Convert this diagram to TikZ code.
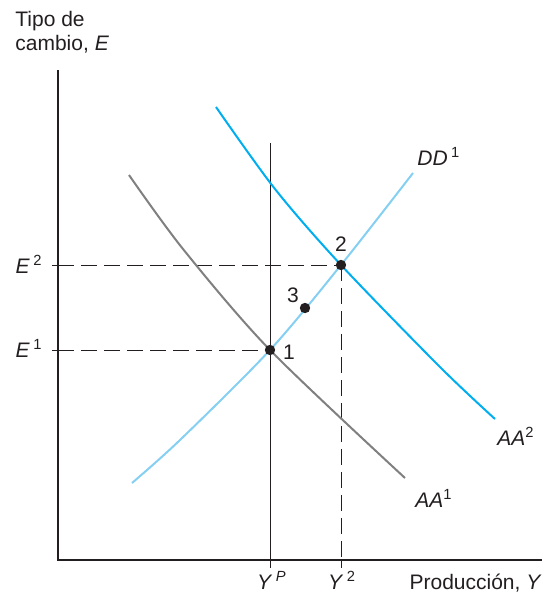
\documentclass[tikz,border=0pt]{standalone}
\usepackage{fontspec}
\setmainfont{Liberation Sans}
\usepackage{tikz}
\definecolor{AAGray}{HTML}{808080}
\definecolor{DDBlue}{HTML}{85D0F2}
\definecolor{AABlue}{HTML}{00AEEF}
\definecolor{AxisBlack}{HTML}{231F20}

\begin{document}
\begin{tikzpicture}[x=0.5pt,y=-0.5pt,font=\fontsize{10.5}{12}\selectfont,
  lbl/.style={inner sep=0pt,text=AxisBlack},
  guide/.style={AxisBlack,line width=0.5pt,dash pattern=on 8pt off 3.5pt},
  curve/.style={line width=1pt,smooth}]
\path[use as bounding box] (0,0) rectangle (554,601);
% equilibria
\coordinate (p1) at (270,350);
\coordinate (p2) at (341,265);
\coordinate (p3) at (305,308);
\coordinate (o) at (58,560);
% axes
\draw[AxisBlack,line width=1pt] (58,70) -- (o) -- (542,560);
\draw[AxisBlack,line width=0.5pt] (270,143) -- (270,568);
\draw[guide] (58,350) -- (p1);
\draw[guide] (58,265) -- (p2);
\draw[guide] (p2) -- (341,560);
\draw[AxisBlack,line width=0.5pt] (52,350) -- (58,350);
\draw[AxisBlack,line width=0.5pt] (52,265) -- (58,265);
\draw[AxisBlack,line width=0.5pt] (341,560) -- (341,568);
% curves
\draw[AAGray,curve] plot coordinates {(129,175) (183,249) (270,350) (405,478)};
\draw[DDBlue,curve] plot coordinates {(132,483) (180,440) (270,350) (341,265) (413,173)};
\draw[AABlue,curve] plot coordinates {(216,107) (275,189) (341,265) (440,367) (495,419)};
\fill[AxisBlack] (p1) circle[radius=2.6pt];
\fill[AxisBlack] (p2) circle[radius=2.6pt];
\fill[AxisBlack] (p3) circle[radius=2.6pt];
% labels
\node[lbl,anchor=base west] (ytitle) at (15,26) {Tipo de};
\node[lbl,anchor=base west] (ytitleb) at (15,50) {cambio, \textit{E}};
\node[lbl,anchor=base east] (xtitle) at (542,589) {Producción, \textit{Y}};
\node[lbl,anchor=base east] (e2) at (43,273) {\textit{E}\,\textsuperscript{2}};
\node[lbl,anchor=base east] (e1) at (43,357) {\textit{E}\,\textsuperscript{1}};
\node[lbl,anchor=base] (yp) at (272,589) {\textit{Y}\,\textsuperscript{\textit{P}}};
\node[lbl,anchor=base] (y2) at (342,589) {\textit{Y}\,\textsuperscript{2}};
\node[lbl,anchor=base west] (dd1) at (417,165) {\textit{DD}\,\textsuperscript{1}};
\node[lbl,anchor=base west] (aa2) at (497,445) {\textit{AA}\textsuperscript{2}};
\node[lbl,anchor=base west] (aa1) at (415,507) {\textit{AA}\textsuperscript{1}};
\node[lbl] (n1) at (289,352) {1};
\node[lbl] (n2) at (341,244) {2};
\node[lbl] (n3) at (293,295) {3};
\end{tikzpicture}
\end{document}
